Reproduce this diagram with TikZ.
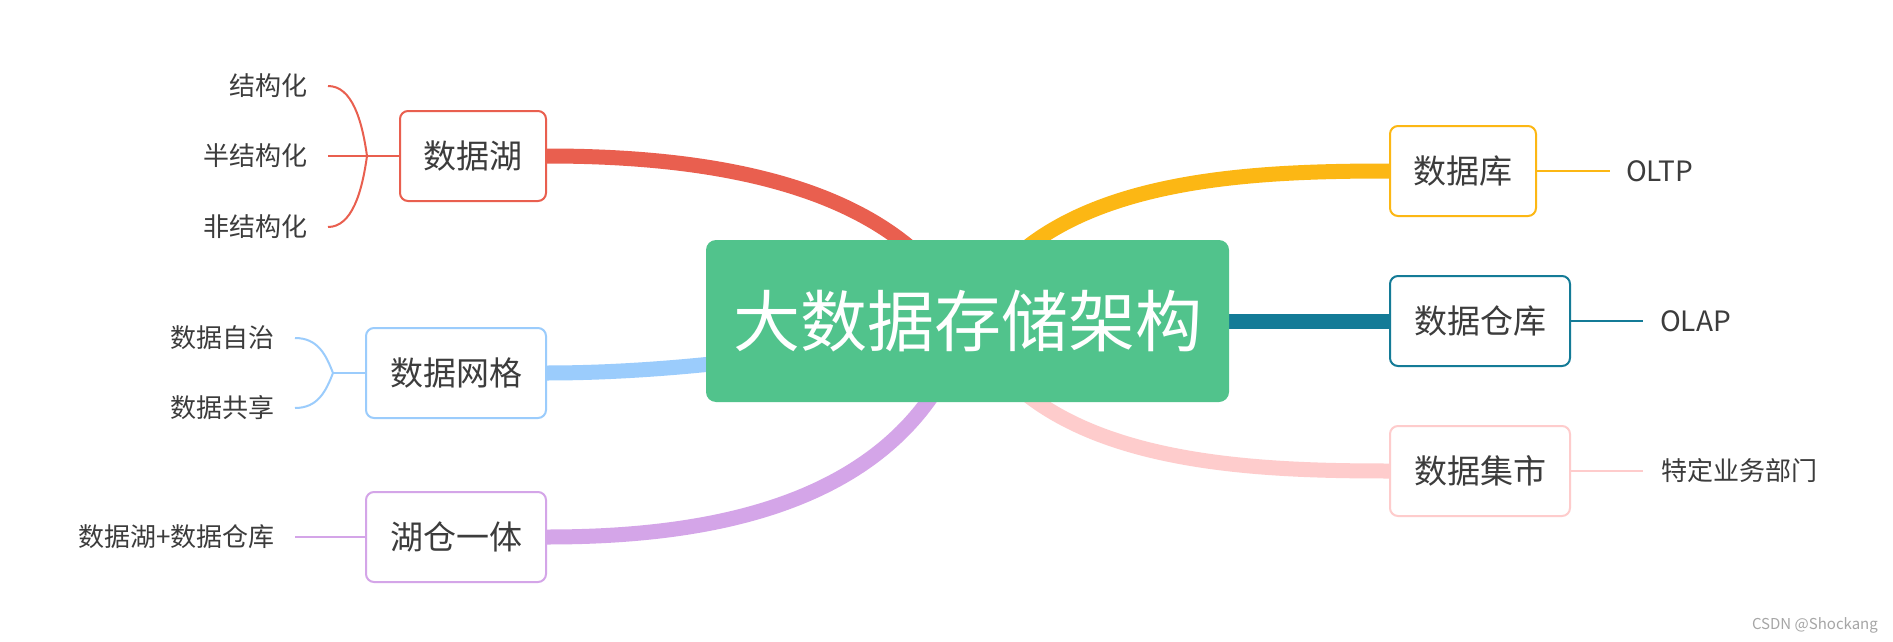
\documentclass[tikz,border=0pt]{standalone}
\usepackage{fontspec}
\setmainfont{Noto Sans CJK SC}
\pgfdeclarelayer{bg}
\pgfsetlayers{bg,main}
\definecolor{cred}{HTML}{E95F4F}
\definecolor{cyellow}{HTML}{FCB714}
\definecolor{cteal}{HTML}{147B97}
\definecolor{cpink}{HTML}{FECCCC}
\definecolor{cblue}{HTML}{9BCCFC}
\definecolor{cpurple}{HTML}{D4A5E8}
\definecolor{cgreen}{HTML}{51C38C}
\definecolor{txt}{HTML}{3C3C3C}
\begin{document}
\begin{tikzpicture}[x=1pt,y=-1pt,
  branch/.style={draw, line width=2pt, rounded corners=8pt, fill=white, text=txt,
    inner sep=0pt, minimum height=90pt, font=\fontsize{33}{40}\selectfont},
  leaf/.style={text=txt, inner sep=0pt, font=\fontsize{26}{31}\selectfont},
  latinleaf/.style={leaf, font=\fontsize{28}{32}\selectfont},
  thickconn/.style={line width=15pt},
  thinconn/.style={line width=2pt}]
\useasboundingbox (0,0) rectangle (1893,642);

% central
\node[fill=cgreen, rounded corners=10pt, minimum width=523pt, minimum height=162pt,
  inner sep=0pt, text=white, font=\fontsize{67}{80}\selectfont] (c) at (967.5,321) {大数据存储架构};

% branches
\node[branch, draw=cred, minimum width=146pt] (lake) at (473,156) {数据湖};
\node[branch, draw=cblue, minimum width=180pt] (mesh) at (456,373) {数据网格};
\node[branch, draw=cpurple, minimum width=180pt] (house) at (456,537) {湖仓一体};
\node[branch, draw=cyellow, minimum width=146pt] (db) at (1463,171) {数据库};
\node[branch, draw=cteal, minimum width=180pt] (dw) at (1480,321) {数据仓库};
\node[branch, draw=cpink, minimum width=180pt] (dm) at (1480,471) {数据集市};

% leaves
\node[leaf, anchor=east] (s1) at (308,86) {结构化};
\node[leaf, anchor=east] (s2) at (308,156) {半结构化};
\node[leaf, anchor=east] (s3) at (308,227) {非结构化};
\node[leaf, anchor=east] (m1) at (275,338) {数据自治};
\node[leaf, anchor=east] (m2) at (275,408) {数据共享};
\node[leaf, anchor=east] (h1) at (275,537) {数据湖+数据仓库};
\node[latinleaf, anchor=west] (o1) at (1626,171) {OLTP};
\node[latinleaf, anchor=west] (o2) at (1660,321) {OLAP};
\node[leaf, anchor=west] (o3) at (1661,471) {特定业务部门};

\node[anchor=east, inner sep=0pt, text=black!35, font=\fontsize{15}{18}\selectfont] (wm) at (1878,625) {CSDN @Shockang};

% junction coordinates
\coordinate (jl) at (367,156);
\coordinate (jm) at (333,373);

\begin{pgfonlayer}{bg}
\fill[white] (0,0) rectangle (1893,642);
% thick connectors
\draw[thickconn, cred] (lake.east) .. controls (700,156) and (900,180) .. (c.center);
\draw[thickconn, cblue] (mesh.east) .. controls (650,373) and (800,360) .. (c.center);
\draw[thickconn, cpurple] (house.east) .. controls (700,537) and (910,510) .. (c.center);
\draw[thickconn, cyellow] (db.west) .. controls (1234,171) and (1034,180) .. (c.center);
\draw[thickconn, cteal] (dw.west) -- (c.center);
\draw[thickconn, cpink] (dm.west) .. controls (1234,471) and (1034,462) .. (c.center);
\end{pgfonlayer}

% thin connectors
\draw[thinconn, cred] ([xshift=20pt]s1.east) .. controls +(24,0) and (362,120) .. (jl)
   .. controls (362,192) and ([xshift=44pt]s3.east) .. ([xshift=20pt]s3.east);
\draw[thinconn, cred] ([xshift=20pt]s2.east) -- (lake.west);
\draw[thinconn, cblue] ([xshift=20pt]m1.east) .. controls +(23,0) and (326,355) .. (jm)
   .. controls (326,391) and ([xshift=43pt]m2.east) .. ([xshift=20pt]m2.east);
\draw[thinconn, cblue] (jm) -- (mesh.west);
\draw[thinconn, cpurple] ([xshift=20pt]h1.east) -- (house.west);
\draw[thinconn, cyellow] (db.east) -- ([xshift=-16pt]o1.west);
\draw[thinconn, cteal] (dw.east) -- ([xshift=-17pt]o2.west);
\draw[thinconn, cpink] (dm.east) -- ([xshift=-18pt]o3.west);
\end{tikzpicture}
\end{document}
